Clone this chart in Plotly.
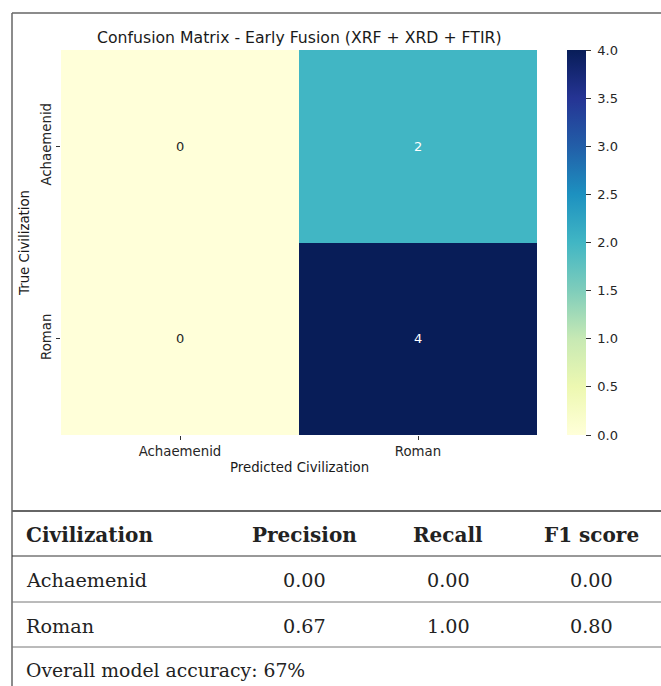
import plotly.graph_objects as go

# ---------------- data ----------------
true_labels = ["Achaemenid", "Roman"]
pred_labels = ["Achaemenid", "Roman"]
cm_values = [[0, 2],
             [0, 4]]
title_text = "Confusion Matrix - Early Fusion (XRF + XRD + FTIR)"
cbar_ticks = [0.0, 0.5, 1.0, 1.5, 2.0, 2.5, 3.0, 3.5, 4.0]

table_header = ["Civilization", "Precision", "Recall", "F1 score"]
table_civ = ["Achaemenid", "Roman"]
table_precision = ["0.00", "0.67"]
table_recall = ["0.00", "1.00"]
table_f1 = ["0.00", "0.80"]
footer_text = "Overall model accuracy: 67%"

# ---------------- layout helpers ----------------
W, H = 661, 686
def px(x):
    return x / W
def py(y):
    return 1 - y / H

ylgnbu = [[0.0, "#ffffd9"], [0.125, "#edf8b1"], [0.25, "#c7e9b4"], [0.375, "#7fcdbb"],
          [0.5, "#41b6c4"], [0.625, "#1d91c0"], [0.75, "#225ea8"], [0.875, "#253494"],
          [1.0, "#081d58"]]

sans = "DejaVu Sans"
serif = "DejaVu Serif"

fig = go.Figure()
fig.add_trace(go.Heatmap(
    z=cm_values, x=pred_labels, y=true_labels,
    colorscale=ylgnbu, zmin=0, zmax=4, xgap=0, ygap=0,
    hoverinfo="skip",
    colorbar=dict(
        x=px(567), xanchor="left", xpad=0,
        y=py(50), yanchor="top", ypad=0,
        len=385, lenmode="pixels", thickness=19, thicknessmode="pixels",
        outlinewidth=0, ticks="outside", ticklen=5, tickwidth=1, tickcolor="#333",
        tickvals=cbar_ticks, ticktext=["\u00a0" + f"{v:.1f}" for v in cbar_ticks],
        tickfont=dict(family=sans, size=13, color="#262626"),
    ),
))

annotations = []
vmax = 4
for i, tl in enumerate(true_labels):
    for j, pl in enumerate(pred_labels):
        v = cm_values[i][j]
        annotations.append(dict(
            x=pl, y=tl, xref="x", yref="y", text=str(v), showarrow=False,
            font=dict(family=sans, size=13, color="#ffffff" if v > vmax * 0.4 else "#262626")))

annotations.append(dict(x=px(299), y=py(37), xref="paper", yref="paper", text=title_text,
                        showarrow=False, xanchor="center", yanchor="middle",
                        font=dict(family=sans, size=15.7, color="#1a1a1a")))
annotations.append(dict(x=px(299), y=py(467), xref="paper", yref="paper", text="Predicted Civilization",
                        showarrow=False, xanchor="center", yanchor="middle",
                        font=dict(family=sans, size=13.3, color="#1a1a1a")))
annotations.append(dict(x=px(25), y=py(243), xref="paper", yref="paper", text="True Civilization",
                        showarrow=False, xanchor="center", yanchor="middle", textangle=-90,
                        font=dict(family=sans, size=13.3, color="#1a1a1a")))

# table text
col_x = [24, 304, 448, 591]
header_y = 535
row_y = [580, 626]
for k, h in enumerate(table_header):
    annotations.append(dict(x=px(col_x[k]), y=py(header_y), xref="paper", yref="paper",
                            text=f"<b>{h}</b>", showarrow=False,
                            xanchor="left" if k == 0 else "center", yanchor="middle",
                            font=dict(family=serif, size=20, color="#222")))
for r in range(len(table_civ)):
    vals = [table_civ[r], table_precision[r], table_recall[r], table_f1[r]]
    for k, v in enumerate(vals):
        annotations.append(dict(x=px(col_x[k]), y=py(row_y[r]), xref="paper", yref="paper",
                                text=v, showarrow=False,
                                xanchor="left" if k == 0 else "center", yanchor="middle",
                                font=dict(family=serif, size=19.2, color="#222")))
annotations.append(dict(x=px(24), y=py(670), xref="paper", yref="paper", text=footer_text,
                        showarrow=False, xanchor="left", yanchor="middle",
                        font=dict(family=serif, size=18.8, color="#222")))

shapes = [
    dict(type="line", xref="paper", yref="paper", x0=px(12), x1=px(662), y0=py(13), y1=py(13),
         line=dict(color="#666", width=1.5)),
    dict(type="line", xref="paper", yref="paper", x0=px(12), x1=px(12), y0=py(13), y1=py(687),
         line=dict(color="#666", width=1.5)),
    dict(type="line", xref="paper", yref="paper", x0=px(12), x1=px(662), y0=py(511), y1=py(511),
         line=dict(color="#666", width=2)),
    dict(type="line", xref="paper", yref="paper", x0=px(12), x1=px(662), y0=py(556), y1=py(556),
         line=dict(color="#333", width=1)),
    dict(type="line", xref="paper", yref="paper", x0=px(12), x1=px(662), y0=py(602), y1=py(602),
         line=dict(color="#777", width=1)),
    dict(type="line", xref="paper", yref="paper", x0=px(12), x1=px(662), y0=py(647), y1=py(647),
         line=dict(color="#777", width=1)),
]

fig.update_layout(
    width=W, height=H, margin=dict(l=0, r=0, t=0, b=0),
    paper_bgcolor="white", plot_bgcolor="white",
    annotations=annotations, shapes=shapes, showlegend=False,
    xaxis=dict(domain=[px(61), px(537)], type="category", ticks="outside", ticklen=4,
               tickcolor="#333", showgrid=False, zeroline=False, showline=False,
               tickfont=dict(family=sans, size=13.3, color="#262626"), fixedrange=True),
    yaxis=dict(domain=[py(435), py(50)], type="category", autorange="reversed",
               ticks="outside", ticklen=4, tickcolor="#333", tickangle=-90,
               showgrid=False, zeroline=False, showline=False,
               tickfont=dict(family=sans, size=13.3, color="#262626"), fixedrange=True),
)

fig.write_html("out.html", config={"displayModeBar": False},
               post_script="document.body.style.margin='0px';document.body.style.overflow='hidden';")
